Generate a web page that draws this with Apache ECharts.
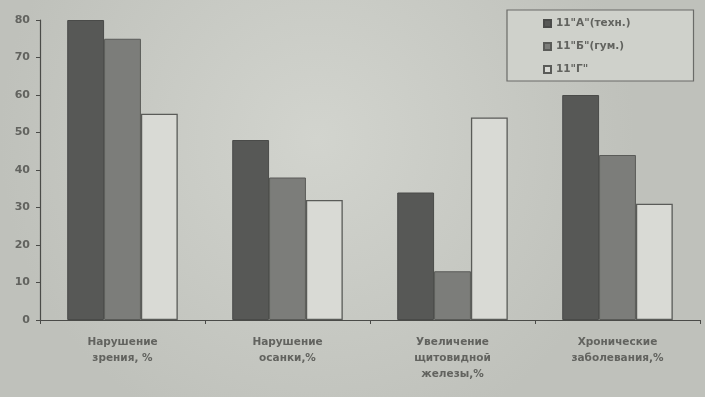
<!DOCTYPE html>
<html>
<head>
<meta charset="utf-8">
<script src="https://cdn.jsdelivr.net/npm/echarts@6/dist/echarts.min.js"></script>
<style>
  html, body { margin: 0; padding: 0; background: #c9cbc5; }
  #chart { width: 705px; height: 397px; }
</style>
</head>
<body>
<div id="chart"></div>
<script>
// Health indicators of 11th-grade classes, percent
const categories = [
  'Нарушение\nзрения, %',
  'Нарушение\nосанки,%',
  'Увеличение\nщитовидной\nжелезы,%',
  'Хронические\nзаболевания,%'
];
const seriesNames = ['11"А"(техн.)', '11"Б"(гум.)', '11"Г"'];
const classA = [80, 48, 34, 60];
const classB = [75, 38, 13, 44];
const classG = [55, 32, 54, 31];
const yTicks = [0, 10, 20, 30, 40, 50, 60, 70, 80];

const textColor = '#62635f';
const edge = '#4a4b48';

const chart = echarts.init(document.getElementById('chart'));
chart.setOption({
  animation: false,
  backgroundColor: {
    type: 'radial', x: 0.45, y: 0.35, r: 0.8,
    colorStops: [
      { offset: 0, color: '#d2d4ce' },
      { offset: 1, color: '#bfc1bb' }
    ]
  },
  legend: {
    orient: 'vertical',
    left: 507,
    top: 10,
    icon: 'rect',
    itemWidth: 7,
    itemHeight: 7,
    itemGap: 12,
    padding: [8, 63, 6, 36],
    borderColor: '#6a6b68',
    borderWidth: 1.2,
    backgroundColor: '#cfd1cb',
    textStyle: { color: textColor, fontSize: 10.5, fontWeight: 'bold', fontFamily: 'DejaVu Sans' },
    data: seriesNames
  },
  grid: { left: 40, right: 5, top: 20, bottom: 77 },
  xAxis: {
    type: 'category',
    data: categories,
    axisLine: { lineStyle: { color: edge, width: 1.2 } },
    axisTick: { show: true, length: 4, lineStyle: { color: edge } },
    axisLabel: {
      color: textColor, fontSize: 10.5, fontWeight: 'bold', lineHeight: 16,
      fontFamily: 'DejaVu Sans', margin: 14, interval: 0
    },
    splitLine: { show: false }
  },
  yAxis: {
    type: 'value',
    min: yTicks[0],
    max: yTicks[yTicks.length - 1],
    interval: 10,
    axisLine: { show: true, lineStyle: { color: edge, width: 1.2 } },
    axisTick: { show: true, length: 4, lineStyle: { color: edge } },
    axisLabel: { color: textColor, fontSize: 11, fontWeight: 'bold', fontFamily: 'DejaVu Sans', margin: 10 },
    splitLine: { show: false }
  },
  series: [
    {
      name: seriesNames[0], type: 'bar', data: classA,
      barGap: '0%', barCategoryGap: '33%',
      itemStyle: { color: '#575856', borderColor: '#4a4b49', borderWidth: 1 }
    },
    {
      name: seriesNames[1], type: 'bar', data: classB,
      barGap: '0%', barCategoryGap: '33%',
      itemStyle: { color: '#7c7d7a', borderColor: '#5a5b58', borderWidth: 1 }
    },
    {
      name: seriesNames[2], type: 'bar', data: classG,
      barGap: '0%', barCategoryGap: '33%',
      itemStyle: { color: '#d9dad5', borderColor: '#5a5b58', borderWidth: 1.3 }
    }
  ]
});
</script>
</body>
</html>
